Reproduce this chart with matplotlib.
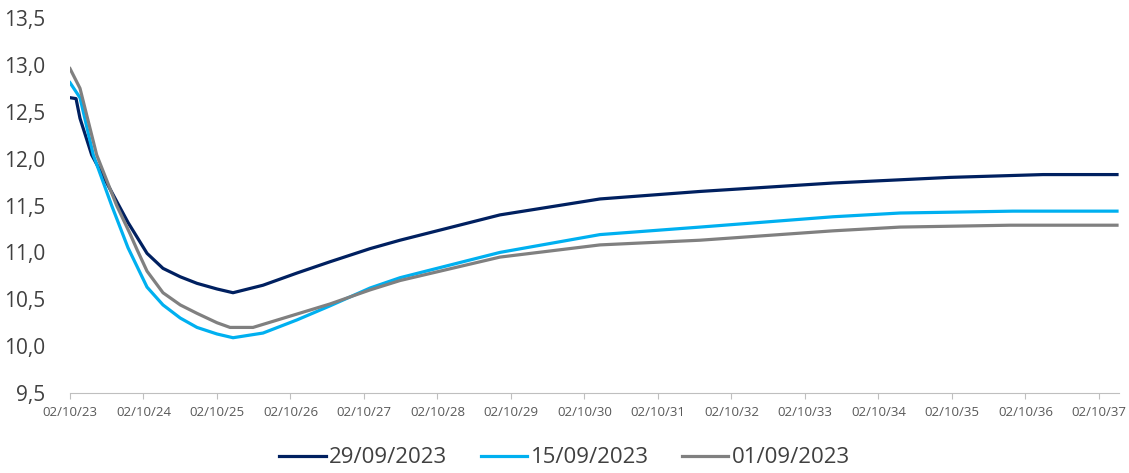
import numpy as np
import matplotlib
matplotlib.use("Agg")
from matplotlib import pyplot as plt

plt.rcParams['font.family'] = ['Open Sans', 'DejaVu Sans']

# x values are years after 02/10/23
tick_labels = ["02/10/%d" % y for y in range(23, 38)]

x_navy = [0, 0.082, 0.136, 0.295, 0.789, 1.048, 1.265, 1.5, 1.728, 2.0, 2.218, 2.626, 3.088, 3.537, 4.082, 4.49,
          5.85, 7.211, 8.571, 10.381, 11.973, 13.238, 14.245]
y_navy = [12.65, 12.64, 12.43, 12.04, 11.32, 10.99, 10.83, 10.74, 10.67, 10.61, 10.57, 10.65, 10.78, 10.9, 11.04, 11.13,
          11.4, 11.57, 11.65, 11.74, 11.8, 11.83, 11.83]

x_blue = [0, 0.136, 0.317, 0.567, 0.789, 1.048, 1.265, 1.5, 1.728, 2.0, 2.218, 2.626, 3.088, 3.537, 4.082, 4.49,
          5.85, 7.211, 8.571, 10.381, 11.293, 12.83, 14.245]
y_blue = [12.81, 12.65, 12.04, 11.5, 11.05, 10.63, 10.44, 10.3, 10.2, 10.13, 10.09, 10.14, 10.28, 10.43, 10.62, 10.73,
          11.0, 11.19, 11.27, 11.38, 11.42, 11.44, 11.44]

x_gray = [0, 0.136, 0.363, 0.635, 0.816, 0.912, 1.048, 1.265, 1.5, 1.728, 2.0, 2.177, 2.49, 2.993, 3.537, 4.082, 4.49,
          5.85, 7.211, 8.571, 10.381, 11.293, 12.789, 14.245]
y_gray = [12.96, 12.75, 12.04, 11.5, 11.2, 11.03, 10.8, 10.57, 10.44, 10.35, 10.25, 10.2, 10.2, 10.32, 10.45, 10.6, 10.7,
          10.95, 11.08, 11.13, 11.23, 11.27, 11.29, 11.29]

fig = plt.figure(figsize=(11.29, 4.73), dpi=100)
ax = fig.add_axes([0.062, 0.169, 0.929, 0.793])

ax.plot(x_navy, y_navy, color="#002060", lw=2.3, label="29/09/2023", solid_joinstyle="round")
ax.plot(x_blue, y_blue, color="#00b0f0", lw=2.3, label="15/09/2023", solid_joinstyle="round")
ax.plot(x_gray, y_gray, color="#808080", lw=2.3, label="01/09/2023", solid_joinstyle="round")

ax.set_xlim(0, 14.27)
ax.set_ylim(9.5, 13.5)
ax.set_xticks(range(15))
ax.set_xticklabels(tick_labels, fontsize=9.5, color="#595959")
yt = np.arange(9.5, 13.51, 0.5)
ax.set_yticks(yt)
ax.set_yticklabels([("%.1f" % v).replace(".", ",") for v in yt], fontsize=15, color="#404040")

for s in ["top", "right", "left"]:
    ax.spines[s].set_visible(False)
ax.spines["bottom"].set_color("#bfbfbf")
ax.spines["bottom"].set_linestyle((0, (1, 1)))
ax.tick_params(axis="y", length=0, pad=18)
ax.tick_params(axis="x", length=4, color="#bfbfbf", pad=5)

fig.legend(loc="center", bbox_to_anchor=(0.5, 0.032), ncol=3, frameon=False,
           fontsize=16, handlelength=2.1, handletextpad=0.15, columnspacing=1.5,
           labelcolor="#404040")

fig.savefig("out.png", dpi=100)
